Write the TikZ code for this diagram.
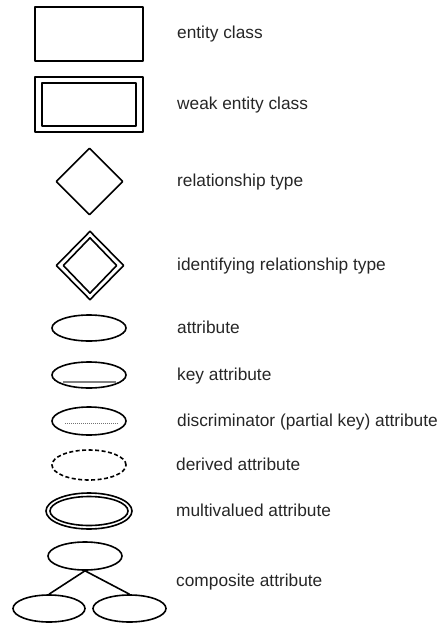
\documentclass[tikz,border=0pt]{standalone}
\usepackage{fontspec}
\setmainfont{Liberation Sans}
\usetikzlibrary{shapes.geometric}

\begin{document}
\begin{tikzpicture}[x=1pt, y=-1pt, line join=round,
  outline/.style={draw=black, line width=1.6pt, inner sep=0pt, fill=none},
  box/.style={outline, rectangle},
  rhombus/.style={outline, diamond, aspect=1},
  oval/.style={outline, ellipse},
  lbl/.style={anchor=west, inner sep=0pt, text=black!85,
    font=\fontsize{17.3}{20}\selectfont, text height=1.5ex, text depth=0.45ex},
  keyline/.style={draw=black!50, line width=1.5pt},
  partline/.style={draw=black!55, line width=1pt, dash pattern=on 1pt off 1pt},
  link/.style={draw=black, line width=1.6pt}
]
\useasboundingbox (0,0) rectangle (437,624);

% entity class
\node[box, minimum width=108pt, minimum height=54pt] (ent) at (89,34) {};
\node[lbl] (entL) at (177,36) {entity class};

% weak entity class
\node[box, minimum width=108pt, minimum height=55pt] (weak) at (89,104.5) {};
\node[box, minimum width=94pt, minimum height=43pt] (weakin) at (89,104.5) {};
\node[lbl] (weakL) at (177,106.5) {weak entity class};

% relationship type
\node[rhombus, minimum width=67pt, minimum height=67pt] (rel) at (89.5,181.5) {};
\node[lbl] (relL) at (177,183.5) {relationship type};

% identifying relationship type
\node[rhombus, minimum width=68pt, minimum height=69pt] (idr) at (90,265.5) {};
\node[rhombus, minimum width=54pt, minimum height=56pt] (idrin) at (90,265.5) {};
\node[lbl] (idrL) at (177,267.5) {identifying relationship type};

% attribute
\node[oval, minimum width=74pt, minimum height=26pt] (att) at (89,328) {};
\node[lbl] (attL) at (177,330.5) {attribute};

% key attribute
\node[oval, minimum width=74pt, minimum height=26pt] (key) at (89,375) {};
\draw[keyline] ([shift={(-26,7)}]key.center) -- ([shift={(27,7)}]key.center);
\node[lbl] (keyL) at (177,378) {key attribute};

% discriminator attribute
\node[oval, minimum width=74pt, minimum height=28pt] (dis) at (89,421) {};
\draw[partline] ([shift={(-24,2)}]dis.center) -- ([shift={(29,2)}]dis.center);
\node[lbl] (disL) at (177,424) {discriminator (partial key) attribute};

% derived attribute
\node[oval, dash pattern=on 4pt off 2.5pt, minimum width=74pt, minimum height=30pt] (der) at (89,465) {};
\node[lbl] (derL) at (176,468) {derived attribute};

% multivalued attribute
\node[oval, minimum width=86pt, minimum height=36pt] (mul) at (89,511) {};
\node[oval, minimum width=78pt, minimum height=29pt] (mulin) at (89,511) {};
\node[lbl] (mulL) at (176,513.5) {multivalued attribute};

% composite attribute
\node[oval, minimum width=74pt, minimum height=28pt] (comp) at (85,556) {};
\node[oval, minimum width=72pt, minimum height=27pt] (compa) at (49,608.5) {};
\node[oval, minimum width=73pt, minimum height=27pt] (compb) at (129.5,608.5) {};
\draw[link] (comp.south) -- (compa.north);
\draw[link] (comp.south) -- (compb.north);
\node[lbl] (compL) at (176,583.5) {composite attribute};
\end{tikzpicture}
\end{document}
